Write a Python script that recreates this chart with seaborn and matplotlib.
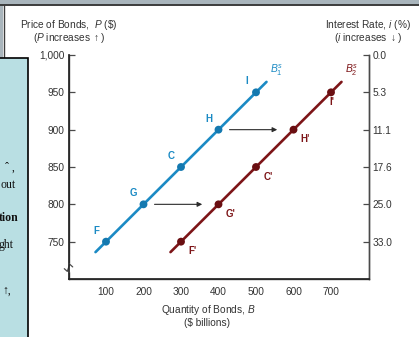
import numpy as np
import pandas as pd
import seaborn as sns
import matplotlib.pyplot as plt
from matplotlib.patches import Rectangle

# ---- data ----
price = [750, 800, 850, 900, 950]
qty_b1 = [100, 200, 300, 400, 500]
qty_b2 = [300, 400, 500, 600, 700]
labels_b1 = ["F", "G", "C", "H", "I"]
labels_b2 = ["F'", "G'", "C'", "H'", "I'"]
price_ticks = [1000, 950, 900, 850, 800, 750]
price_ticklabels = ["1,000", "950", "900", "850", "800", "750"]
rate_ticklabels = ["0.0", "5.3", "11.1", "17.6", "25.0", "33.0"]
qty_ticks = [100, 200, 300, 400, 500, 600, 700]

blue = "#1b8ac4"
red = "#7d1518"
grey = "#4a4a4a"

sns.set_theme(style="white")
plt.rcParams["font.family"] = ["Liberation Sans", "DejaVu Sans"]
plt.rcParams["mathtext.fontset"] = "custom"
plt.rcParams["mathtext.it"] = "Liberation Sans:italic"
plt.rcParams["mathtext.rm"] = "Liberation Sans"


def supply_line(q, p, pad=28):
    slope, icpt = np.polyfit(q, p, 1)
    xs = np.array([q[0] - pad, q[-1] + pad])
    return pd.DataFrame({"q": xs, "p": slope * xs + icpt})


fig = plt.figure(figsize=(4.19, 3.37), dpi=100)

# slide frame bits around the picture
fig.patches.append(Rectangle((0, 1 - 5 / 337), 1, 5 / 337, transform=fig.transFigure,
                             facecolor="#a9b5bc", edgecolor="none", zorder=0))
fig.patches.append(Rectangle((0, 0), 3 / 419, 1, transform=fig.transFigure,
                             facecolor="#a9b5bc", edgecolor="none", zorder=0))
fig.lines.append(plt.Line2D([0, 1], [1 - 5 / 337, 1 - 5 / 337], transform=fig.transFigure,
                            color="#3c3c3c", lw=1.4))
fig.lines.append(plt.Line2D([3.5 / 419, 3.5 / 419], [1 - 5 / 337, 0], transform=fig.transFigure,
                            color="#3c3c3c", lw=1.0))

ax = fig.add_axes([68.5 / 419, 1 - 279 / 337, 300 / 419, 224 / 337])
ax.set_xlim(0, 800)
ax.set_ylim(700, 1000)

sns.lineplot(data=supply_line(qty_b1, price), x="q", y="p", color=blue, lw=1.9, ax=ax)
sns.lineplot(data=supply_line(qty_b2, price), x="q", y="p", color=red, lw=1.9, ax=ax)
sns.scatterplot(x=qty_b1, y=price, color="#1479b0", s=32, edgecolor="none", ax=ax, zorder=3)
sns.scatterplot(x=qty_b2, y=price, color="#6a0f12", s=32, edgecolor="none", ax=ax, zorder=3)

for q, p, t in zip(qty_b1, price, labels_b1):
    ax.annotate(t, (q, p), xytext=(-7, 8), textcoords="offset points", ha="center",
                va="center", color=blue, fontsize=7, fontweight="bold")
red_offsets = [(8.6, -7), (8.6, -7), (8.6, -7), (8.6, -7), (0.5, -7)]
for q, p, t, off in zip(qty_b2, price, labels_b2, red_offsets):
    ax.annotate(t, (q, p), xytext=off, textcoords="offset points", ha="center",
                va="center", color=red, fontsize=7, fontweight="bold")

end1 = supply_line(qty_b1, price).iloc[-1]
end2 = supply_line(qty_b2, price).iloc[-1]
ax.annotate(r"$B^s_1$", (end1.q, end1.p), xytext=(7.5, 8), textcoords="offset points",
            ha="center", va="center", color=blue, fontsize=7.5)
ax.annotate(r"$B^s_2$", (end2.q, end2.p), xytext=(7.5, 8), textcoords="offset points",
            ha="center", va="center", color=red, fontsize=7.5)

# shift arrows G -> G' and H -> H'
for i in [1, 3]:
    ax.annotate("", xy=(qty_b2[i] - 36, price[i]), xytext=(qty_b1[i] + 22, price[i]),
                arrowprops=dict(arrowstyle="-|>", color="#2b2b2b", lw=0.8, mutation_scale=7))

# axes look
ax.set_xticks(qty_ticks)
ax.set_xticklabels([str(v) for v in qty_ticks])
ax.set_yticks(price_ticks)
ax.set_yticklabels(price_ticklabels)
ax.tick_params(axis="both", direction="in", length=4, width=0.9, color=grey,
               labelsize=7.3, labelcolor="#333333")
ax.tick_params(axis="x", pad=6)
ax.tick_params(axis="y", pad=3)
ax.set_xlabel("")
ax.set_ylabel("")
ax.spines["top"].set_visible(False)
for s in ["left", "bottom", "right"]:
    ax.spines[s].set_color(grey)
    ax.spines[s].set_linewidth(1.0)

ax2 = ax.twinx()
ax2.set_ylim(ax.get_ylim())
ax2.set_yticks(price_ticks)
ax2.set_yticklabels(rate_ticklabels)
ax2.tick_params(axis="y", direction="in", length=4, width=0.9, color=grey,
                labelsize=7.3, labelcolor="#333333", pad=3)
ax2.spines["top"].set_visible(False)
ax2.spines["right"].set_color(grey)
ax2.spines["right"].set_linewidth(1.0)
ax2.set_ylabel("")

# axis break on the left spine
yb = 0.05
ax.plot([0, 0], [yb - 0.014, yb + 0.014], transform=ax.transAxes,
        color="white", lw=3, clip_on=False, zorder=5)
ax.plot([-0.014, -0.004, 0.004, 0.014], [yb - 0.004, yb - 0.016, yb + 0.016, yb + 0.004],
        transform=ax.transAxes, color=grey, lw=0.9, clip_on=False, zorder=6)

# axis titles
fs = 7.3
fig.text(69 / 419, 1 - 25 / 337, r"Price of Bonds,  $\it{P}$ (\$)", ha="center", va="center",
         fontsize=fs, color="#333333")
fig.text(69 / 419, 1 - 38 / 337, r"($\it{P}$ increases $\uparrow$)", ha="center", va="center",
         fontsize=fs, color="#333333")
fig.text(368 / 419, 1 - 25 / 337, r"Interest Rate, $\it{i}$ (%)", ha="center", va="center",
         fontsize=fs, color="#333333")
fig.text(368 / 419, 1 - 38 / 337, r"($\it{i}$ increases $\downarrow$)", ha="center", va="center",
         fontsize=fs, color="#333333")
fig.text(208 / 419, 1 - 310 / 337, r"Quantity of Bonds, $\it{B}$", ha="center", va="center",
         fontsize=fs, color="#333333")
fig.text(207 / 419, 1 - 322.5 / 337, r"(\$ billions)", ha="center", va="center",
         fontsize=fs, color="#333333")

# overlapping slide box on the left
fig.patches.append(Rectangle((-2 / 419, -0.05), 30 / 419, 1 - 58 / 337 + 0.05,
                             transform=fig.transFigure, facecolor="#b9dfe3",
                             edgecolor="black", lw=1.2, zorder=10))
serif = ["Liberation Serif", "DejaVu Serif"]
box_lines = [("\u02c6 ,", 168, 15, "normal"), ("out", 185, 15.5, "normal"),
             ("tion", 218, 18.5, "bold"), ("ght", 245, 13.5, "normal"),
             ("\u2191,", 291, 11, "normal")]
for txt, ypx, xr, wt in box_lines:
    fig.text(xr / 419, 1 - ypx / 337, txt, ha="right", va="center", fontsize=8.5,
             family=serif, fontweight=wt, color="#111111", zorder=11)

fig.savefig("out.png", dpi=100)
